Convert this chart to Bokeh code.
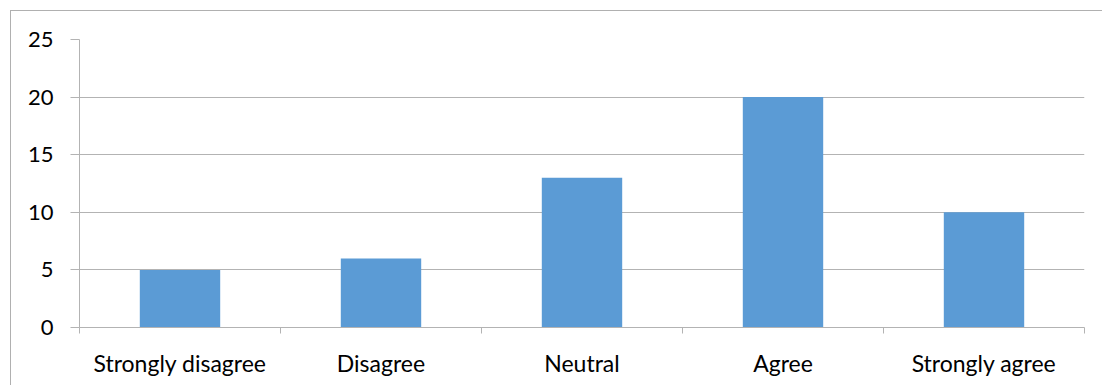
from bokeh.plotting import figure
from bokeh.models import FixedTicker, Range1d
from bokeh.embed import file_html
from bokeh.resources import INLINE
import numpy as np

categories = ["Strongly disagree", "Disagree", "Neutral", "Agree", "Strongly agree"]
counts = [5, 6, 13, 20, 10]
y_ticks = [0, 5, 10, 15, 20, 25]

FONT = "Lato"
GRID = "#b3b3b3"
BAR = "#5b9bd5"

centers = np.arange(len(categories)) + 0.5
bounds = list(range(len(categories) + 1))

p = figure(
    width=1092, height=375,
    x_range=Range1d(0, len(categories)), y_range=Range1d(0, 25),
    output_backend="svg", toolbar_location=None,
    min_border_left=68, min_border_right=19, min_border_top=28, min_border_bottom=59,
    margin=(10, 0, 0, 10),
    styles={"border-left": "1px solid #b0b0b0", "border-top": "1px solid #b0b0b0"},
)
p.outline_line_color = None
p.background_fill_color = "white"
p.border_fill_color = "white"

p.vbar(x=centers, top=counts, width=0.4, color=BAR, line_color=None)

# horizontal gridlines only
p.xgrid.visible = False
p.ygrid.ticker = FixedTicker(ticks=y_ticks)
p.ygrid.grid_line_color = GRID

# y axis
p.yaxis.ticker = FixedTicker(ticks=y_ticks)
p.yaxis.axis_line_color = GRID
p.yaxis.major_tick_line_color = GRID
p.yaxis.major_tick_in = 0
p.yaxis.major_tick_out = 9
p.yaxis.minor_tick_line_color = None
p.yaxis.major_label_standoff = 17
p.yaxis.major_label_text_font = FONT
p.yaxis.major_label_text_font_size = "22px"
p.yaxis.major_label_text_color = "black"

# x axis: labels at category centres, ticks at category boundaries
p.xaxis.ticker = FixedTicker(ticks=list(centers), minor_ticks=bounds)
p.xaxis.major_label_overrides = {float(c): name for c, name in zip(centers, categories)}
p.xaxis.axis_line_color = GRID
p.xaxis.major_tick_line_color = None
p.xaxis.major_tick_in = 0
p.xaxis.major_tick_out = 0
p.xaxis.minor_tick_line_color = GRID
p.xaxis.minor_tick_in = 0
p.xaxis.minor_tick_out = 6
p.xaxis.major_label_standoff = 15
p.xaxis.major_label_text_font = FONT
p.xaxis.major_label_text_font_size = "23px"
p.xaxis.major_label_text_color = "black"

open("out.html", "w").write(file_html(p, INLINE))
